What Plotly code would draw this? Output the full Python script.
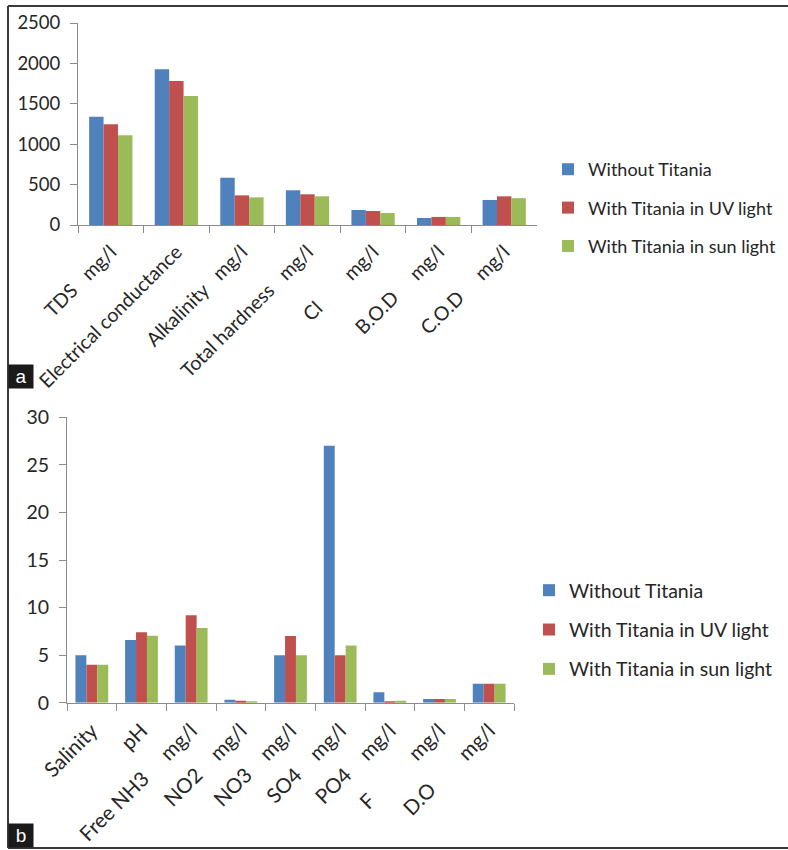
import plotly.graph_objects as go

# ---- data -------------------------------------------------------------
NB = "\u00a0"  # non-breaking space keeps the gap inside the tick labels

series_names = ["Without Titania", "With Titania in UV light", "With Titania in sun light"]
series_colors = ["#4F81BD", "#C0504D", "#9BBB59"]

cats_a = [
    "TDS" + NB * 3 + "mg/l",
    "Electrical conductance",
    "Alkalinity" + NB * 3 + "mg/l",
    "Total hardness" + NB * 3 + "mg/l",
    "Cl" + NB * 8 + "mg/l",
    "B.O.D" + NB * 5 + "mg/l",
    "C.O.D" + NB * 5 + "mg/l",
]
without_a = [1340, 1927, 585, 430, 186, 87, 310]
uv_a = [1246, 1782, 367, 380, 173, 100, 355]
sun_a = [1110, 1597, 342, 355, 148, 100, 332]

cats_b = [
    "Salinity",
    "pH",
    "Free NH3" + NB * 5 + "mg/l",
    "NO2" + NB * 4 + "mg/l",
    "NO3" + NB * 4 + "mg/l",
    "SO4" + NB * 4 + "mg/l",
    "PO4" + NB * 4 + "mg/l",
    "F" + NB * 11 + "mg/l",
    "D.O" + NB * 8 + "mg/l",
]
without_b = [5, 6.6, 6, 0.3, 5, 27, 1.1, 0.4, 2]
uv_b = [4, 7.4, 9.2, 0.2, 7, 5, 0.15, 0.4, 2]
sun_b = [4, 7.05, 7.85, 0.15, 5, 6, 0.2, 0.4, 2]

y_ticks_a = [0, 500, 1000, 1500, 2000, 2500]
y_ticks_b = [0, 5, 10, 15, 20, 25, 30]

# ---- figure -----------------------------------------------------------
W, H = 788, 850
FONT = "Lato, 'Open Sans', sans-serif"
TXT = "#262626"
AXC = "#8C8C8C"

fig = go.Figure()

for name, color, vals in zip(series_names, series_colors, [without_a, uv_a, sun_a]):
    fig.add_trace(go.Bar(
        x=cats_a, y=vals, name=name, marker=dict(color=color, line=dict(width=0)),
        xaxis="x", yaxis="y", legend="legend", legendgroup="a_" + name,
    ))

for name, color, vals in zip(series_names, series_colors, [without_b, uv_b, sun_b]):
    fig.add_trace(go.Bar(
        x=cats_b, y=vals, name=name, marker=dict(color=color, line=dict(width=0)),
        xaxis="x2", yaxis="y2", legend="legend2", legendgroup="b_" + name,
    ))


def px_x(p):
    return p / W


def px_y(p):
    return 1 - p / H


common_x = dict(
    type="category", showline=True, linecolor=AXC, linewidth=1,
    ticks="outside", ticklen=7, tickcolor=AXC, tickson="boundaries",
    tickangle=-45, showgrid=False, zeroline=False, ticklabelstandoff=7,
)
common_y = dict(
    showline=True, linecolor=AXC, linewidth=1, ticks="outside", ticklen=7,
    tickcolor=AXC, showgrid=False, zeroline=False, ticklabelstandoff=6,
)

fig.update_layout(
    width=W, height=H,
    margin=dict(l=0, r=0, t=0, b=0, autoexpand=False),
    paper_bgcolor="white", plot_bgcolor="white",
    barmode="group", bargap=0.34, bargroupgap=0,
    font=dict(family=FONT, color=TXT),
    xaxis=dict(common_x, domain=[px_x(78), px_x(537)], anchor="y",
               tickfont=dict(family=FONT, color=TXT, size=19.5)),
    yaxis=dict(common_y, domain=[px_y(225), px_y(23)], anchor="x",
               range=[0, 2500], tickvals=y_ticks_a,
               tickfont=dict(family=FONT, color=TXT, size=18.5)),
    xaxis2=dict(common_x, domain=[px_x(67), px_x(514)], anchor="y2",
                tickfont=dict(family=FONT, color=TXT, size=20.5)),
    yaxis2=dict(common_y, domain=[px_y(702.7), px_y(417.3)], anchor="x2",
                range=[0, 30], tickvals=y_ticks_b,
                tickfont=dict(family=FONT, color=TXT, size=19.5)),
    legend=dict(x=px_x(548), xanchor="left", y=px_y(208), yanchor="middle",
                traceorder="grouped", tracegroupgap=12,
                font=dict(family=FONT, size=18, color=TXT),
                bgcolor="rgba(0,0,0,0)"),
    legend2=dict(x=px_x(529), xanchor="left", y=px_y(630), yanchor="middle",
                 traceorder="grouped", tracegroupgap=11,
                 font=dict(family=FONT, size=19.5, color=TXT),
                 bgcolor="rgba(0,0,0,0)"),
)

# frame around the two panels
frame = dict(type="line", xref="paper", yref="paper",
             line=dict(color="#3A3A3A", width=2))
fig.add_shape(frame, x0=px_x(8), x1=1, y0=px_y(6), y1=px_y(6))
fig.add_shape(frame, x0=px_x(8), x1=px_x(8), y0=px_y(6), y1=px_y(848))
fig.add_shape(frame, x0=px_x(8), x1=1, y0=px_y(848), y1=px_y(848))

# panel letters
for letter, bottom in (("a", 389), ("b", 848)):
    fig.add_annotation(
        text=letter, xref="paper", yref="paper", x=px_x(8), y=px_y(bottom),
        xanchor="left", yanchor="bottom", showarrow=False,
        width=20, height=19, bgcolor="#1A1A1A", borderpad=2,
        font=dict(family="Liberation Sans, Arial, sans-serif", size=19, color="white"),
    )

fig.write_html("out.html")
